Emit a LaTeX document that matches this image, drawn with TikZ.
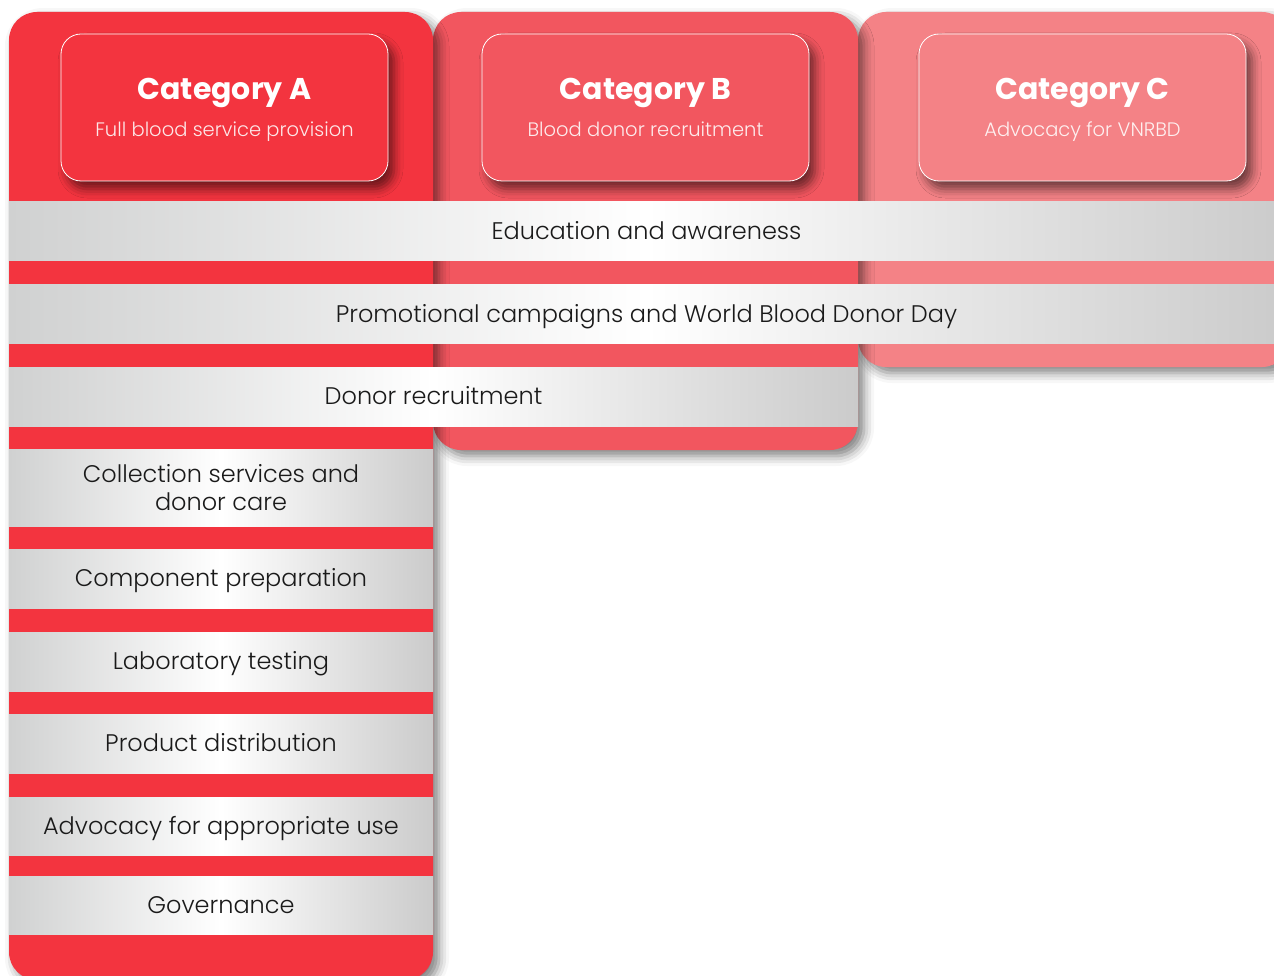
\documentclass[tikz,border=0pt]{standalone}
\usepackage{fontspec}
\setmainfont{Poppins}
\IfFontExistsTF{Poppins Light}{\newfontfamily\thin{Poppins Light}}{\newcommand\thin{}}
\usepackage{tikz}
\usetikzlibrary{shadows.blur}
\definecolor{catA}{HTML}{F3343F}
\definecolor{catB}{HTML}{F2565F}
\definecolor{catC}{HTML}{F48286}
\definecolor{bandL}{HTML}{D0D1D1}
\definecolor{bandR}{HTML}{CBCBCB}
\definecolor{ink}{HTML}{1A1A1A}

\begin{document}
\begin{tikzpicture}[x=1pt,y=-1pt,
  column/.style={rectangle,rounded corners=28pt,anchor=north west,inner sep=0pt,outer sep=0pt,
    blur shadow={shadow xshift=6pt,shadow yshift=-6pt,shadow blur radius=10pt,shadow opacity=50}},
  header/.style={rectangle,rounded corners=20pt,draw=white,line width=0.8pt,inner sep=0pt,
    minimum width=327pt,minimum height=147pt,
    blur shadow={shadow xshift=6pt,shadow yshift=-8pt,shadow blur radius=9pt,shadow opacity=55}},
  title/.style={anchor=base,inner sep=0pt,text=white,font=\fontsize{30}{36}\selectfont\bfseries},
  subtitle/.style={anchor=base,inner sep=0pt,font=\thin\fontsize{19.5}{24}\selectfont},
  band/.style={rectangle,anchor=north west,inner sep=0pt,outer sep=0pt,minimum height=59pt,
    left color=bandL,right color=bandR,middle color=white,text=ink,align=center,
    text height=22pt,text depth=5.2pt,font=\thin\fontsize{24}{28}\selectfont}]
\useasboundingbox (0,0) rectangle (1274,976);
\node[column] (C) [fill=catC, minimum width=432pt, minimum height=355pt] at (858,12) {};
\node[column] (B) [fill=catB, minimum width=425pt, minimum height=438pt] at (433,12) {};
\node[column] (A) [fill=catA, minimum width=424pt, minimum height=968pt] at (9,12) {};
\node[band] (edu) [minimum width=1275pt] at (9,202) {Education and awareness};
\node[band] (promo) [minimum width=1275pt, minimum height=58pt] at (9,285) {Promotional campaigns and World Blood Donor Day};
\node[band] (recruit) [minimum width=849pt] at (9,367) {Donor recruitment};
\node[band] (collect) [minimum width=424pt, minimum height=77pt, text height=, text depth=] at (9,449) {Collection services and\\donor care};
\node[band] (comp) [minimum width=424pt] at (9,549) {Component preparation};
\node[band] (lab) [minimum width=424pt] at (9,632) {Laboratory testing};
\node[band] (dist) [minimum width=424pt] at (9,714) {Product distribution};
\node[band] (use) [minimum width=424pt, minimum height=58pt] at (9,797) {Advocacy for appropriate use};
\node[band] (gov) [minimum width=424pt, minimum height=58pt] at (9,876) {Governance};
\node[header] (hA) [fill=catA] at (224.5,107.5) {};
\node[header] (hB) [fill=catB] at (645.5,107.5) {};
\node[header] (hC) [fill=catC] at (1082.5,107.5) {};
\node[title] (tA) at ([yshift=7.5pt]hA.center) {Category A};
\node[title] (tB) at ([yshift=7.5pt]hB.center) {Category B};
\node[title] (tC) at ([yshift=7.5pt]hC.center) {Category C};
\node[subtitle] (sA) [text=white!88!catA] at ([yshift=-29.5pt]hA.center) {Full blood service provision};
\node[subtitle] (sB) [text=white!88!catB] at ([yshift=-29.5pt]hB.center) {Blood donor recruitment};
\node[subtitle] (sC) [text=white!88!catC] at ([yshift=-29.5pt]hC.center) {Advocacy for VNRBD};
\end{tikzpicture}
\end{document}
